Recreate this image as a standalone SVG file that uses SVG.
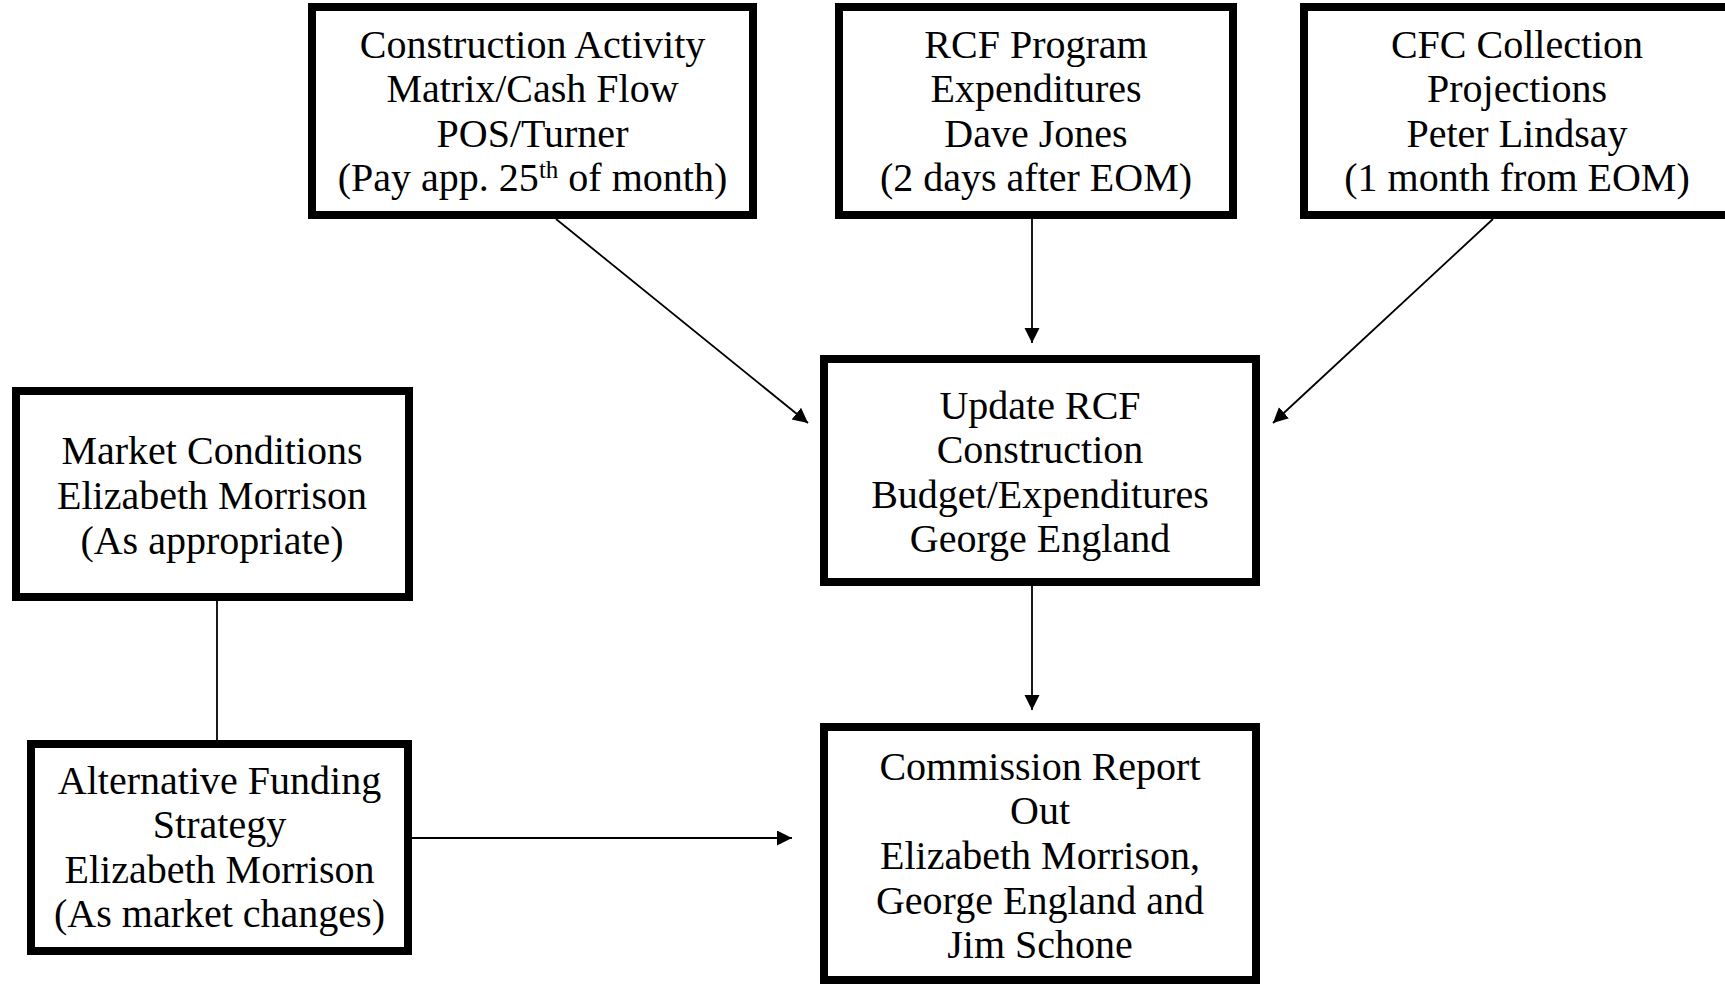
<svg xmlns="http://www.w3.org/2000/svg" width="1725" height="984" viewBox="0 0 1725 984">
<style>
.box{fill:#fff;stroke:#000;stroke-width:8}
.t{font-family:"Liberation Serif","Times New Roman",serif;font-size:40px;fill:#000;text-anchor:middle}
.c{stroke:#000;stroke-width:1.8;fill:none}
</style>
<defs>
<marker id="ah" markerUnits="userSpaceOnUse" markerWidth="16" markerHeight="16" refX="15" refY="7.5" orient="auto">
<path d="M0,0 L15,7.5 L0,15 z" fill="#000"/>
</marker>
</defs>
<rect width="1725" height="984" fill="#fff"/>
<g id="connectors">
<line class="c" x1="556" y1="219" x2="808" y2="423" marker-end="url(#ah)"/>
<line class="c" x1="1032" y1="219" x2="1032" y2="343" marker-end="url(#ah)"/>
<line class="c" x1="1493" y1="219" x2="1273" y2="423" marker-end="url(#ah)"/>
<line class="c" x1="1032" y1="586" x2="1032" y2="710" marker-end="url(#ah)"/>
<line class="c" x1="217" y1="601" x2="217" y2="740"/>
<line class="c" x1="412" y1="838" x2="792" y2="838" marker-end="url(#ah)"/>
</g>
<g id="construction-activity">
<rect class="box" x="312" y="7" width="441" height="208"/>
<text class="t" x="532.5" y="58">Construction Activity</text>
<text class="t" x="532.5" y="102">Matrix/Cash Flow</text>
<text class="t" x="532.5" y="147">POS/Turner</text>
<text class="t" x="532.5" y="191">(Pay app. 25<tspan font-size="25" dy="-13">th</tspan><tspan dy="13"> of month)</tspan></text>
</g>
<g id="rcf-program">
<rect class="box" x="839" y="7" width="394" height="208"/>
<text class="t" x="1036" y="58">RCF Program</text>
<text class="t" x="1036" y="102">Expenditures</text>
<text class="t" x="1036" y="147">Dave Jones</text>
<text class="t" x="1036" y="191">(2 days after EOM)</text>
</g>
<g id="cfc-collection">
<rect class="box" x="1304" y="7" width="440" height="208"/>
<text class="t" x="1517" y="58">CFC Collection</text>
<text class="t" x="1517" y="102">Projections</text>
<text class="t" x="1517" y="147">Peter Lindsay</text>
<text class="t" x="1517" y="191">(1 month from EOM)</text>
</g>
<g id="update-rcf">
<rect class="box" x="824" y="359" width="432" height="223"/>
<text class="t" x="1040" y="419">Update RCF</text>
<text class="t" x="1040" y="463">Construction</text>
<text class="t" x="1040" y="508">Budget/Expenditures</text>
<text class="t" x="1040" y="552">George England</text>
</g>
<g id="commission-report">
<rect class="box" x="824" y="727" width="432" height="253"/>
<text class="t" x="1040" y="780">Commission Report</text>
<text class="t" x="1040" y="824">Out</text>
<text class="t" x="1040" y="869">Elizabeth Morrison,</text>
<text class="t" x="1040" y="914">George England and</text>
<text class="t" x="1040" y="958">Jim Schone</text>
</g>
<g id="market-conditions">
<rect class="box" x="16" y="391" width="393" height="206"/>
<text class="t" x="212" y="464">Market Conditions</text>
<text class="t" x="212" y="509">Elizabeth Morrison</text>
<text class="t" x="212" y="554">(As appropriate)</text>
</g>
<g id="alternative-funding">
<rect class="box" x="31" y="744" width="377" height="207"/>
<text class="t" x="219.5" y="794">Alternative Funding</text>
<text class="t" x="219.5" y="838">Strategy</text>
<text class="t" x="219.5" y="883">Elizabeth Morrison</text>
<text class="t" x="219.5" y="927">(As market changes)</text>
</g>
</svg>
